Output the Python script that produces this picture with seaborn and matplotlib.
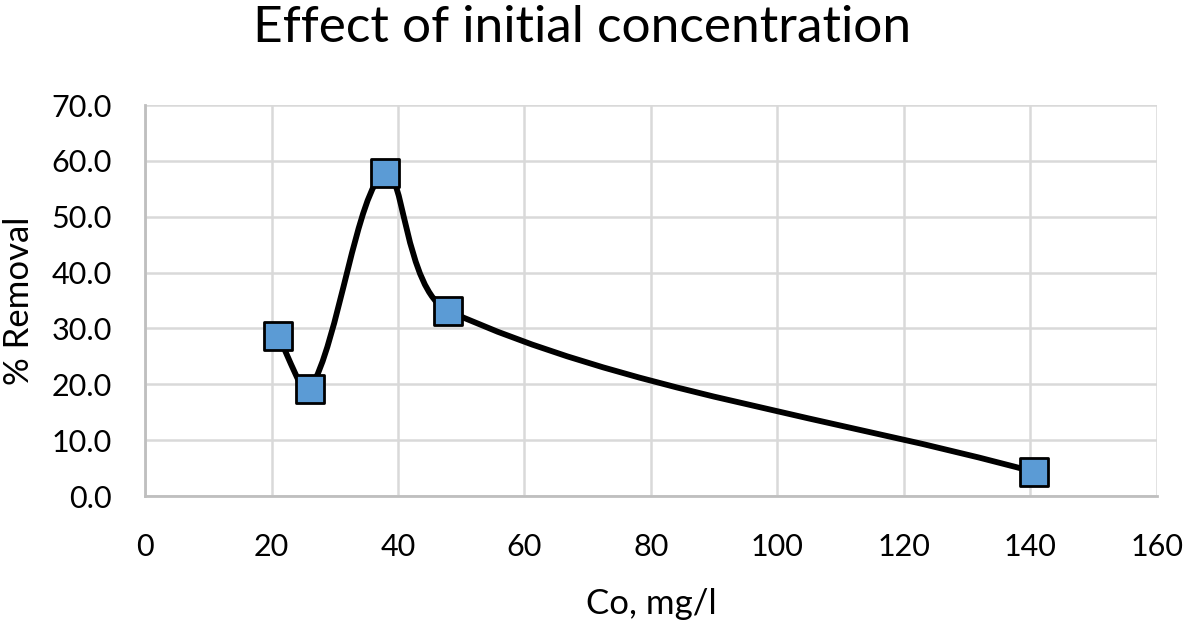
import numpy as np
import matplotlib
matplotlib.use("Agg")
import matplotlib.pyplot as plt
import seaborn as sns
from matplotlib.path import Path
from matplotlib.patches import PathPatch
import pandas as pd

# 数据
co_mg_l = [21.0, 26.1, 37.9, 47.9, 140.6]
removal_pct = [28.6, 19.2, 57.9, 33.2, 4.3]
x_ticks = [0, 20, 40, 60, 80, 100, 120, 140, 160]
y_ticks = [0, 10, 20, 30, 40, 50, 60, 70]

sns.set_theme(style="white")
plt.rcParams['font.family'] = ['Lato', 'DejaVu Sans']
plt.rcParams['text.color'] = 'black'
plt.rcParams['axes.labelcolor'] = 'black'


# 类似Excel的平滑曲线：在显示坐标中计算Bezier控制点
def smooth_path(ax, xs, ys):
    pts = ax.transData.transform(np.column_stack([xs, ys]))
    n = len(pts)
    verts = [pts[0]]
    codes = [Path.MOVETO]
    for i in range(n - 1):
        p0 = pts[max(i - 1, 0)]
        p1 = pts[i]
        p2 = pts[i + 1]
        p3 = pts[min(i + 2, n - 1)]
        d01 = np.linalg.norm(p1 - p0)
        d12 = np.linalg.norm(p2 - p1)
        d23 = np.linalg.norm(p3 - p2)
        w1 = d12 / (d01 + d12) if d01 + d12 > 0 else 0.5
        w2 = d12 / (d12 + d23) if d12 + d23 > 0 else 0.5
        c1 = p1 + (p2 - p0) * w1 / 3
        c2 = p2 - (p3 - p1) * w2 / 3
        verts += [c1, c2, p2]
        codes += [Path.CURVE4] * 3
    verts = ax.transData.inverted().transform(np.array(verts))
    return Path(verts, codes)


df = pd.DataFrame({"Co": co_mg_l, "Removal": removal_pct})

fig = plt.figure(figsize=(11.84, 6.2), dpi=100)
ax = fig.add_axes([0.1225, 0.2, 0.8545, 0.6306])
ax.set_xlim(0, 160)
ax.set_ylim(0, 70)
ax.set_xticks(x_ticks)
ax.set_yticks(y_ticks)
ax.set_xticklabels([str(t) for t in x_ticks])
ax.set_yticklabels([f"{t:.1f}" for t in y_ticks])

ax.grid(True, color="#d9d9d9", linewidth=1.8)
ax.set_axisbelow(True)
for side in ["top", "right"]:
    ax.spines[side].set_visible(False)
for side in ["left", "bottom"]:
    ax.spines[side].set_color("#bfbfbf")
    ax.spines[side].set_linewidth(2.0)
ax.tick_params(axis="both", length=0, labelsize=22, colors="black")
ax.tick_params(axis="x", pad=27)
ax.tick_params(axis="y", pad=24)

path = smooth_path(ax, df["Co"].values, df["Removal"].values)
ax.add_patch(PathPatch(path, facecolor="none", edgecolor="black",
                       linewidth=4.2, capstyle="round", joinstyle="round", zorder=3))

sns.scatterplot(data=df, x="Co", y="Removal", ax=ax, marker="s", s=420,
                color="#5b9bd5", edgecolor="black", linewidth=2.0, zorder=4)

ax.set_xlabel("Co, mg/l", fontsize=25, labelpad=19, color="black")
ax.set_ylabel("% Removal", fontsize=25, labelpad=12, color="black")
fig.text(0.492, 0.955, "Effect of initial concentration", fontsize=37,
         ha="center", va="center", color="black")

fig.savefig("out.png", dpi=100)
